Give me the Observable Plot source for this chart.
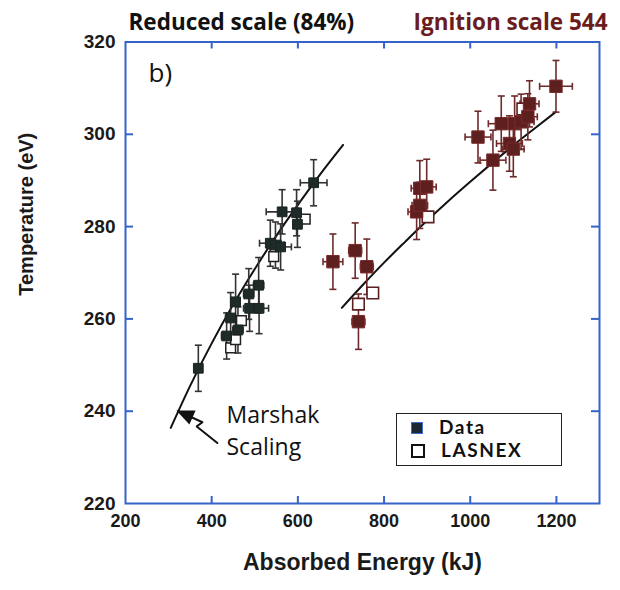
<!DOCTYPE html>
<html><head><meta charset="utf-8">
<script src="https://cdn.jsdelivr.net/npm/d3@7"></script>
<script src="https://cdn.jsdelivr.net/npm/@observablehq/plot@0.6"></script>
<style>
body{margin:0;background:#fff;}
#wrap{position:relative;width:620px;height:590px;}
#legend{position:absolute;left:396px;top:413px;width:164px;height:51px;border:1.5px solid #222;font-family:"Lato",sans-serif;font-size:19px;font-weight:bold;letter-spacing:1.6px;color:#111;}
#legend .row{position:absolute;left:14px;height:23px;line-height:23px;white-space:nowrap;}
#legend .sw{display:inline-block;width:10px;height:10px;vertical-align:middle;margin-right:16px;position:relative;top:-1px;}
</style></head><body><div id="wrap"><div id="plot"></div>
<div id="legend">
<div class="row" style="top:1px"><span class="sw" style="background:#1c2833;border:1.5px solid #3d6fd6"></span>Data</div>
<div class="row" style="top:24px"><span class="sw" style="background:#fff;border:2px solid #111"></span>LASNEX</div>
</div></div>
<script>
// ---- data: [absorbed energy kJ, temperature eV, energy error, temperature error]
const reducedData = [
  [369,249.3,0,5],[434.7,256.3,12,5],[444,260.2,12,5.5],[455.5,263.7,10,6],[461,257.6,12,5],
  [486,265.4,12,5.5],[488,262.3,14,5],[510,262.3,22,5.5],[509,267.3,12,6],[536,276.4,25,5],
  [548,276,20,5],[560,275.6,25,5],[563.5,283.2,37,4.8],[597,283,10,5],[599,280.5,10,5],[636.6,289.5,31,5]
];
const reducedLasnex = [[444,253.7],[455.5,255.5],[469,259.6],[544,273.5],[617,281.6]];
const ignitionData = [
  [681.4,272.4,23,6],[733,274.8,15,6],[760,271.3,15,6],[740.6,259.4,15,6],[875.6,283.2,20,6],
  [883,284.6,18,5],[883,288.3,20,6],[899,288.6,22,6],[1018,299.4,30,5.6],[1052.7,294.4,30,6.5],
  [1072,302.3,30,6],[1091,298,30,6],[1100,296.8,25,6],[1103,302.3,30,6],[1118,302.7,30,6],
  [1133.7,303.8,22,5],[1137.6,306.6,22,5],[1199,310.4,38,5.6]
];
const ignitionLasnex = [[740.6,263.2],[773.9,265.6],[902,282.1],[1122,305.5]];
// Marshak scaling curves
const marshakReduced = [[305,236.4],[350,245.5],[400,254.7],[450,263.1],[500,270.8],[550,278.0],[600,284.7],[650,291.1],[705,297.7]];
const marshakIgnition = [[702,262.4],[750,267.3],[800,272.2],[850,276.8],[900,281.3],[950,285.6],[1000,289.7],[1050,293.7],[1100,297.6],[1150,301.3],[1198,304.8]];
const arrowPath = [[413.2,233.1],[365.3,236.7],[378.5,237.6],[322.1,240.0]];
const xTicks = [200,400,600,800,1000,1200];
const yTicks = [220,240,260,280,300,320];
const xInner = [400,600,800,1000,1200];
const yInner = [240,260,280,300];
const titleLeft = "Reduced scale (84%)";
const titleRight = "Ignition scale 544";

// ---- styling
const blue = "#3563c9";
const darkFill = "#1e2b28", darkBar = "#333";
const redFill = "#5e1f1f", redBar = "#6e2a2a";
const H = 590, MT = 41.5, MB = 87, ML = 125, MR = 21;
const innerH = H - MT - MB, innerW = 620 - ML - MR;
const sansBold = "'Liberation Sans', Arial, sans-serif";
const hCap = {draw(c){c.moveTo(-3.5,0);c.lineTo(3.5,0);}};
const vCap = {draw(c){c.moveTo(0,-3.5);c.lineTo(0,3.5);}};
const head = {draw(c){c.moveTo(0,0);c.lineTo(-15,-6.5);c.lineTo(-15,6.5);c.closePath();}};

function errMarks(data, color){
  const withX = data.filter(d => d[2] > 0);
  return [
    Plot.link(data, {x1:d=>d[0], x2:d=>d[0], y1:d=>d[1]-d[3], y2:d=>d[1]+d[3], stroke:color, strokeWidth:1.6}),
    Plot.link(withX, {x1:d=>d[0]-d[2], x2:d=>d[0]+d[2], y1:d=>d[1], y2:d=>d[1], stroke:color, strokeWidth:1.6}),
    Plot.dot(data.flatMap(d=>[[d[0],d[1]-d[3]],[d[0],d[1]+d[3]]]), {x:d=>d[0], y:d=>d[1], symbol:hCap, r:3, stroke:color, strokeWidth:1.6, fill:"none"}),
    Plot.dot(withX.flatMap(d=>[[d[0]-d[2],d[1]],[d[0]+d[2],d[1]]]), {x:d=>d[0], y:d=>d[1], symbol:vCap, r:3, stroke:color, strokeWidth:1.6, fill:"none"})
  ];
}

const chart = Plot.plot({
  width:620, height:H, marginTop:MT, marginBottom:MB, marginLeft:ML, marginRight:MR,
  x:{domain:[200,1300]}, y:{domain:[220,320]},
  style:{fontFamily:sansBold, fontSize:"17px", fontWeight:"bold", color:"#1a1a1a", background:"#fff"},
  marks:[
    Plot.axisX(xTicks, {tickSize:0, tickPadding:11, label:null, tickFormat:d=>String(d), fontSize:18, fontWeight:"bold", fontFamily:sansBold}),
    Plot.axisY(yTicks, {tickSize:0, tickPadding:10, label:null, tickFormat:d=>String(d), fontSize:19, fontWeight:"bold", fontFamily:sansBold}),
    Plot.tickX(xInner, {x:d=>d, stroke:blue, strokeWidth:2, insetTop:innerH-7}),
    Plot.tickX(xInner, {x:d=>d, stroke:blue, strokeWidth:2, insetBottom:innerH-7}),
    Plot.tickY(yInner, {y:d=>d, stroke:blue, strokeWidth:2, insetRight:innerW-8}),
    Plot.tickY(yInner, {y:d=>d, stroke:blue, strokeWidth:2, insetLeft:innerW-8}),
    Plot.frame({stroke:blue, strokeWidth:2}),
    Plot.line(marshakReduced, {x:d=>d[0], y:d=>d[1], stroke:"#111", strokeWidth:2, curve:"monotone-x"}),
    Plot.line(marshakIgnition, {x:d=>d[0], y:d=>d[1], stroke:"#111", strokeWidth:2, curve:"monotone-x"}),
    ...errMarks(reducedData, darkBar),
    ...errMarks(ignitionData, redBar),
    Plot.dot(reducedLasnex, {x:d=>d[0], y:d=>d[1], symbol:"square", r:5.5, fill:"#fff", stroke:"#222", strokeWidth:1.5}),
    Plot.dot(ignitionLasnex, {x:d=>d[0], y:d=>d[1], symbol:"square", r:6.5, fill:"#fff", stroke:"#5a1f1f", strokeWidth:1.6}),
    Plot.dot(reducedData, {x:d=>d[0], y:d=>d[1], symbol:"square", r:5.5, fill:darkFill, stroke:"#1a2522", strokeWidth:1}),
    Plot.dot(ignitionData, {x:d=>d[0], y:d=>d[1], symbol:"square", r:7, fill:redFill, stroke:"#7a2a2a", strokeWidth:1}),
    Plot.line(arrowPath, {x:d=>d[0], y:d=>d[1], stroke:"#111", strokeWidth:2}),
    Plot.dot([arrowPath[arrowPath.length-1]], {x:d=>d[0], y:d=>d[1], symbol:head, r:5, fill:"#111", stroke:"#111", rotate:204}),
    Plot.text(["b)"], {frameAnchor:"top-left", dx:23, dy:22, textAnchor:"start", fontFamily:"Open Sans", fontWeight:"normal", fontSize:26, fill:"#111"}),
    Plot.text(["Marshak\nScaling"], {frameAnchor:"top-left", dx:101, dy:358, textAnchor:"start", lineAnchor:"top", lineHeight:1.4, fontFamily:"Open Sans", fontWeight:"500", fontSize:23, fill:"#111"}),
    Plot.text([titleLeft], {frameAnchor:"top-left", dx:3, dy:-28, textAnchor:"start", fontFamily:"Open Sans", fontWeight:"bold", fontSize:22.5, fill:"#111"}),
    Plot.text([titleRight], {frameAnchor:"top-right", dx:8, dy:-28, textAnchor:"end", fontFamily:"Open Sans", fontWeight:"bold", fontSize:22.5, fill:"#6b1d1d"}),
    Plot.text(["Absorbed Energy (kJ)"], {frameAnchor:"bottom", dy:66, fontSize:23, fontWeight:"bold", fontFamily:sansBold, fill:"#1a1a1a"}),
    Plot.text(["Temperature (eV)"], {frameAnchor:"left", dx:-99, dy:23, rotate:-90, fontSize:20, fontWeight:"bold", fontFamily:sansBold, fill:"#1a1a1a"})
  ]
});
document.getElementById("plot").appendChild(chart);
</script></body></html>
